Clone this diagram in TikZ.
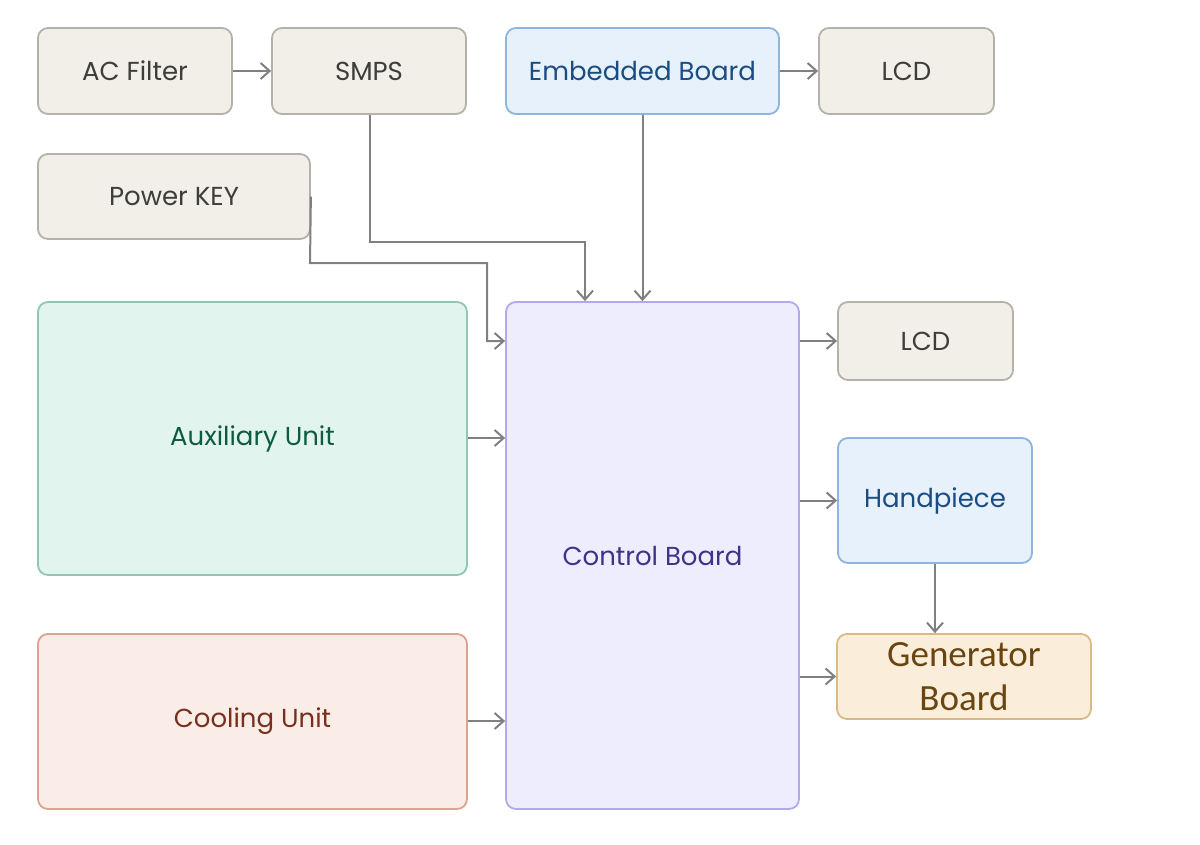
\documentclass[tikz,border=0pt]{standalone}
\usepackage{fontspec}
\setmainfont{Poppins}
\newfontfamily\genfont{Carlito}
\usetikzlibrary{arrows.meta}
\definecolor{gfill}{HTML}{F1EFE8}
\definecolor{gline}{HTML}{B4B2A9}
\definecolor{gtext}{HTML}{3D3D3A}
\definecolor{bfill}{HTML}{E6F1FB}
\definecolor{bline}{HTML}{8DB5DE}
\definecolor{btext}{HTML}{1B4C82}
\definecolor{tfill}{HTML}{E1F5EE}
\definecolor{tline}{HTML}{8FC7B2}
\definecolor{ttext}{HTML}{0F5A43}
\definecolor{cfill}{HTML}{FAECE7}
\definecolor{cline}{HTML}{DCA392}
\definecolor{ctext}{HTML}{76301C}
\definecolor{pfill}{HTML}{EEEDFE}
\definecolor{pline}{HTML}{B0AAEC}
\definecolor{ptext}{HTML}{3C3489}
\definecolor{ofill}{HTML}{FAEEDA}
\definecolor{oline}{HTML}{D9BA84}
\definecolor{otext}{HTML}{6A4511}
\definecolor{arrc}{HTML}{808080}
\begin{document}
\begin{tikzpicture}[x=1pt,y=-1pt,
  box/.style={draw, line width=1.8pt, rounded corners=10pt, inner sep=0pt, font=\fontsize{26}{30}\selectfont, align=center},
  grey/.style={box, fill=gfill, draw=gline, text=gtext},
  blue/.style={box, fill=bfill, draw=bline, text=btext},
  teal/.style={box, fill=tfill, draw=tline, text=ttext},
  coral/.style={box, fill=cfill, draw=cline, text=ctext},
  purple/.style={box, fill=pfill, draw=pline, text=ptext},
  amber/.style={box, fill=ofill, draw=oline, text=otext},
  arr/.style={draw=arrc, line width=2pt, -{Straight Barb[length=9pt,width=16pt,line width=2pt]}}]
\useasboundingbox[fill=white] (0,0) rectangle (1200,844);

\node[grey, minimum width=194pt, minimum height=86pt] (ac) at (135,71) {AC Filter};
\node[grey, minimum width=194pt, minimum height=86pt] (smps) at (369,71) {SMPS};
\node[blue, minimum width=273pt, minimum height=86pt] (emb) at (642.5,71) {Embedded Board};
\node[grey, minimum width=175pt, minimum height=86pt] (lcd1) at (906.5,71) {LCD};
\node[grey, minimum width=272pt, minimum height=85pt] (pk) at (174,196.5) {Power KEY};
\node[teal, minimum width=429pt, minimum height=273pt] (aux) at (252.5,438.5) {Auxiliary Unit};
\node[coral, minimum width=429pt, minimum height=175pt] (cool) at (252.5,721.5) {Cooling Unit};
\node[purple, minimum width=293pt, minimum height=507pt] (cb) at (652.5,555.5) {Control Board};
\node[grey, minimum width=175pt, minimum height=78pt] (lcd2) at (925.5,341) {LCD};
\node[blue, minimum width=194pt, minimum height=125pt] (hp) at (935,500.5) {Handpiece};
\node[amber, minimum width=254pt, minimum height=85pt, font=\genfont\fontsize{37}{44}\selectfont] (gen) at (964,676.5) {Generator\\Board};

\coordinate (s1) at (370,242);
\coordinate (s2) at (585,242);
\coordinate (p1) at (310,263);
\coordinate (p2) at (487,263);
\coordinate (p3) at (487,341);

\draw[arr] (ac) -- (smps);
\draw[arr] (emb) -- (lcd1);
\draw[arr] (smps.south -| s1) -- (s1) -- (s2) -- (s2 |- cb.north);
\draw[arr] (emb.south) -- (emb.south |- cb.north);
\draw[arr] (pk.east) -- (p1) -- (p2) -- (p3) -- (p3 -| cb.west);
\draw[arr] (aux.east |- 0,438) -- (cb.west |- 0,438);
\draw[arr] (cool.east |- 0,721) -- (cb.west |- 0,721);
\draw[arr] (cb.east |- lcd2) -- (lcd2.west);
\draw[arr] (cb.east |- hp) -- (hp.west);
\draw[arr] (hp.south) -- (gen.north -| hp.south);
\draw[arr] (cb.east |- gen) -- (gen.west);
\end{tikzpicture}
\end{document}
